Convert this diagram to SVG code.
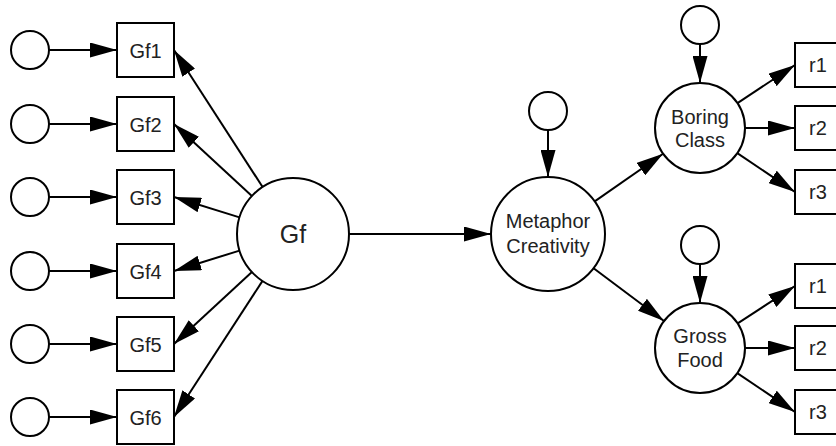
<svg xmlns="http://www.w3.org/2000/svg" width="836" height="446" viewBox="0 0 836 446">
<defs>
<marker id="ah" viewBox="0 0 27 15" refX="27" refY="7.5" markerWidth="27" markerHeight="15" markerUnits="userSpaceOnUse" orient="auto">
<path d="M0,0 L27,7.5 L0,15 z" fill="#000"/>
</marker>
<style>
.n{fill:#fff;stroke:#000;stroke-width:2}
.t{font-family:"Liberation Sans",Arial,sans-serif;font-size:20px;fill:#222;text-anchor:middle}
.c line{stroke:#000;stroke-width:2;marker-end:url(#ah)}
</style>
</defs>
<rect width="836" height="446" fill="#fff"/>
<g class="c" id="connectors">
<line x1="49" y1="50" x2="117" y2="50"/>
<line x1="49" y1="124" x2="117" y2="124"/>
<line x1="49" y1="197" x2="117" y2="197"/>
<line x1="49" y1="271" x2="117" y2="271"/>
<line x1="49" y1="344" x2="117" y2="344"/>
<line x1="49" y1="417" x2="117" y2="417"/>
<line x1="262.6" y1="187" x2="174" y2="50"/>
<line x1="251.9" y1="196" x2="174" y2="124"/>
<line x1="239.5" y1="217.4" x2="174" y2="197"/>
<line x1="239.5" y1="250.6" x2="174" y2="271"/>
<line x1="251.9" y1="272" x2="174" y2="344"/>
<line x1="262.5" y1="280.9" x2="174" y2="417"/>
<line x1="349" y1="234" x2="491" y2="234"/>
<line x1="548" y1="130" x2="548" y2="177"/>
<line x1="594.7" y1="201.4" x2="663.1" y2="153.7"/>
<line x1="593.6" y1="268.2" x2="664" y2="321"/>
<line x1="700" y1="44" x2="700" y2="83"/>
<line x1="737.5" y1="103.1" x2="795" y2="65"/>
<line x1="745" y1="128" x2="795" y2="128"/>
<line x1="737.3" y1="153.2" x2="795" y2="192"/>
<line x1="700" y1="264" x2="700" y2="303"/>
<line x1="737.7" y1="323.4" x2="795" y2="286"/>
<line x1="745" y1="348" x2="795" y2="348"/>
<line x1="737.3" y1="373.2" x2="795" y2="412"/>
</g>
<g id="e1"><circle class="n" cx="30" cy="50" r="19"/></g>
<g id="e2"><circle class="n" cx="30" cy="124" r="19"/></g>
<g id="e3"><circle class="n" cx="30" cy="197" r="19"/></g>
<g id="e4"><circle class="n" cx="30" cy="271" r="19"/></g>
<g id="e5"><circle class="n" cx="30" cy="344" r="19"/></g>
<g id="e6"><circle class="n" cx="30" cy="417" r="19"/></g>
<g id="gf1"><rect class="n" x="117" y="23" width="57" height="54"/><text class="t" x="145.5" y="58">Gf1</text></g>
<g id="gf2"><rect class="n" x="117" y="97" width="57" height="54"/><text class="t" x="145.5" y="132">Gf2</text></g>
<g id="gf3"><rect class="n" x="117" y="170" width="57" height="54"/><text class="t" x="145.5" y="205">Gf3</text></g>
<g id="gf4"><rect class="n" x="117" y="244" width="57" height="54"/><text class="t" x="145.5" y="279">Gf4</text></g>
<g id="gf5"><rect class="n" x="117" y="317" width="57" height="54"/><text class="t" x="145.5" y="352">Gf5</text></g>
<g id="gf6"><rect class="n" x="117" y="390" width="57" height="54"/><text class="t" x="145.5" y="425">Gf6</text></g>
<g id="gf"><circle class="n" cx="293" cy="234" r="56"/><text class="t" x="293" y="243" style="font-size:25px">Gf</text></g>
<g id="emc"><circle class="n" cx="548" cy="111" r="19"/></g>
<g id="mc"><circle class="n" cx="548" cy="234" r="57"/><text class="t" x="548" y="228">Metaphor</text><text class="t" x="548" y="253">Creativity</text></g>
<g id="ebc"><circle class="n" cx="700" cy="25" r="19"/></g>
<g id="bc"><circle class="n" cx="700" cy="128" r="45"/><text class="t" x="700" y="124">Boring</text><text class="t" x="700" y="147">Class</text></g>
<g id="egf"><circle class="n" cx="700" cy="245" r="19"/></g>
<g id="gfood"><circle class="n" cx="700" cy="348" r="45"/><text class="t" x="700" y="343">Gross</text><text class="t" x="700" y="367">Food</text></g>
<g id="br1"><rect class="n" x="795" y="43" width="50" height="44"/><text class="t" x="818" y="72">r1</text></g>
<g id="br2"><rect class="n" x="795" y="106" width="50" height="44"/><text class="t" x="818" y="135">r2</text></g>
<g id="br3"><rect class="n" x="795" y="170" width="50" height="44"/><text class="t" x="818" y="199">r3</text></g>
<g id="gr1"><rect class="n" x="795" y="264" width="50" height="44"/><text class="t" x="818" y="293">r1</text></g>
<g id="gr2"><rect class="n" x="795" y="326" width="50" height="44"/><text class="t" x="818" y="355">r2</text></g>
<g id="gr3"><rect class="n" x="795" y="390" width="50" height="44"/><text class="t" x="818" y="419">r3</text></g>
</svg>
